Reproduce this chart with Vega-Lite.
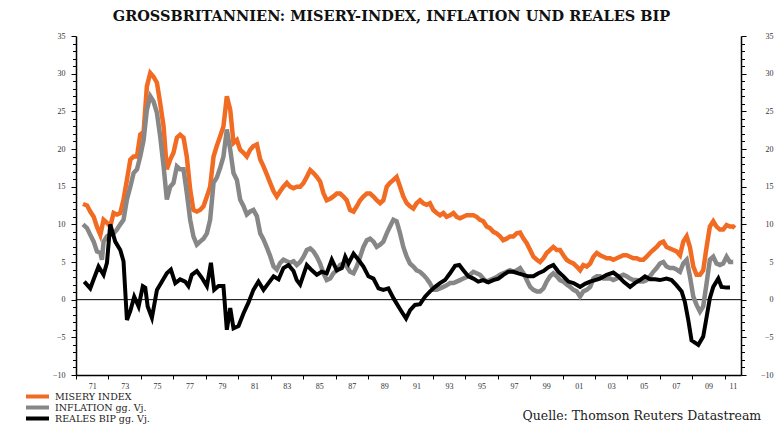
{
"$schema":"https://vega.github.io/schema/vega-lite/v6.json",
"width":665,"height":339,
"autosize":{"type":"none"},
"padding":{"left":76,"top":36,"right":35,"bottom":50},
"background":"white",
"title":{"text":"GROSSBRITANNIEN: MISERY-INDEX, INFLATION UND REALES BIP","font":"DejaVu Serif","fontSize":14.5,"fontWeight":"bold","color":"#111","anchor":"middle","dx":-17,"offset":0,"dy":3,"baseline":"alphabetic"},
"config":{"view":{"stroke":null},"axis":{"domainColor":"#000","domainWidth":1.5,"tickColor":"#000","tickWidth":1,"labelFont":"Liberation Serif","labelFontSize":8,"labelColor":"#333","grid":false}},
"data":{"values":[
{"t":1971.43,"s":"M","v":12.7},{"t":1971.68,"s":"M","v":12.5},{"t":1971.88,"s":"M","v":11.7},{"t":1972.09,"s":"M","v":11.0},{"t":1972.29,"s":"M","v":9.7},{"t":1972.5,"s":"M","v":8.6},{"t":1972.7,"s":"M","v":10.6},{"t":1972.91,"s":"M","v":10.2},{"t":1973.11,"s":"M","v":9.7},{"t":1973.32,"s":"M","v":11.5},{"t":1973.52,"s":"M","v":11.3},{"t":1973.73,"s":"M","v":11.5},{"t":1973.93,"s":"M","v":13.3},{"t":1974.14,"s":"M","v":15.9},{"t":1974.35,"s":"M","v":18.6},{"t":1974.55,"s":"M","v":19.0},{"t":1974.76,"s":"M","v":19.0},{"t":1974.96,"s":"M","v":21.9},{"t":1975.17,"s":"M","v":22.3},{"t":1975.37,"s":"M","v":28.3},{"t":1975.58,"s":"M","v":30.1},{"t":1975.78,"s":"M","v":29.6},{"t":1975.99,"s":"M","v":28.8},{"t":1976.19,"s":"M","v":26.1},{"t":1976.4,"s":"M","v":23.0},{"t":1976.6,"s":"M","v":17.3},{"t":1976.81,"s":"M","v":18.6},{"t":1977.01,"s":"M","v":19.5},{"t":1977.22,"s":"M","v":21.5},{"t":1977.42,"s":"M","v":21.9},{"t":1977.63,"s":"M","v":21.5},{"t":1977.83,"s":"M","v":19.0},{"t":1978.04,"s":"M","v":14.6},{"t":1978.24,"s":"M","v":11.9},{"t":1978.45,"s":"M","v":11.7},{"t":1978.65,"s":"M","v":11.9},{"t":1978.86,"s":"M","v":12.4},{"t":1979.07,"s":"M","v":13.7},{"t":1979.27,"s":"M","v":15.0},{"t":1979.48,"s":"M","v":19.0},{"t":1979.68,"s":"M","v":20.4},{"t":1979.89,"s":"M","v":21.7},{"t":1980.09,"s":"M","v":23.0},{"t":1980.3,"s":"M","v":27.0},{"t":1980.51,"s":"M","v":25.2},{"t":1980.71,"s":"M","v":20.8},{"t":1980.92,"s":"M","v":21.2},{"t":1981.12,"s":"M","v":19.9},{"t":1981.33,"s":"M","v":19.5},{"t":1981.53,"s":"M","v":19.0},{"t":1981.74,"s":"M","v":19.9},{"t":1981.94,"s":"M","v":20.4},{"t":1982.15,"s":"M","v":20.6},{"t":1982.36,"s":"M","v":18.6},{"t":1982.56,"s":"M","v":17.7},{"t":1982.77,"s":"M","v":16.6},{"t":1982.97,"s":"M","v":15.5},{"t":1983.18,"s":"M","v":14.4},{"t":1983.38,"s":"M","v":13.7},{"t":1983.59,"s":"M","v":14.4},{"t":1983.79,"s":"M","v":15.0},{"t":1984.0,"s":"M","v":15.5},{"t":1984.2,"s":"M","v":15.0},{"t":1984.41,"s":"M","v":14.8},{"t":1984.61,"s":"M","v":15.0},{"t":1984.82,"s":"M","v":15.0},{"t":1985.03,"s":"M","v":15.5},{"t":1985.23,"s":"M","v":16.3},{"t":1985.44,"s":"M","v":17.2},{"t":1985.64,"s":"M","v":16.8},{"t":1985.85,"s":"M","v":16.3},{"t":1986.05,"s":"M","v":15.7},{"t":1986.26,"s":"M","v":14.1},{"t":1986.46,"s":"M","v":13.2},{"t":1986.67,"s":"M","v":13.4},{"t":1986.87,"s":"M","v":13.7},{"t":1987.08,"s":"M","v":14.1},{"t":1987.28,"s":"M","v":14.1},{"t":1987.49,"s":"M","v":13.7},{"t":1987.69,"s":"M","v":13.2},{"t":1987.9,"s":"M","v":11.9},{"t":1988.11,"s":"M","v":11.7},{"t":1988.31,"s":"M","v":12.4},{"t":1988.52,"s":"M","v":13.2},{"t":1988.72,"s":"M","v":13.7},{"t":1988.93,"s":"M","v":14.1},{"t":1989.13,"s":"M","v":14.1},{"t":1989.34,"s":"M","v":13.7},{"t":1989.54,"s":"M","v":13.2},{"t":1989.75,"s":"M","v":12.8},{"t":1989.95,"s":"M","v":13.2},{"t":1990.16,"s":"M","v":15.0},{"t":1990.36,"s":"M","v":15.5},{"t":1990.57,"s":"M","v":15.9},{"t":1990.77,"s":"M","v":16.3},{"t":1990.98,"s":"M","v":15.0},{"t":1991.18,"s":"M","v":13.7},{"t":1991.39,"s":"M","v":12.8},{"t":1991.59,"s":"M","v":12.4},{"t":1991.8,"s":"M","v":12.1},{"t":1992.0,"s":"M","v":12.8},{"t":1992.21,"s":"M","v":13.2},{"t":1992.41,"s":"M","v":12.8},{"t":1992.62,"s":"M","v":12.6},{"t":1992.82,"s":"M","v":12.8},{"t":1993.03,"s":"M","v":11.9},{"t":1993.24,"s":"M","v":11.5},{"t":1993.44,"s":"M","v":11.2},{"t":1993.65,"s":"M","v":11.5},{"t":1993.85,"s":"M","v":11.0},{"t":1994.06,"s":"M","v":11.2},{"t":1994.27,"s":"M","v":11.5},{"t":1994.47,"s":"M","v":11.0},{"t":1994.68,"s":"M","v":10.8},{"t":1994.88,"s":"M","v":11.0},{"t":1995.09,"s":"M","v":11.2},{"t":1995.29,"s":"M","v":11.2},{"t":1995.5,"s":"M","v":11.2},{"t":1995.7,"s":"M","v":11.0},{"t":1995.91,"s":"M","v":10.6},{"t":1996.11,"s":"M","v":10.4},{"t":1996.32,"s":"M","v":9.7},{"t":1996.52,"s":"M","v":9.5},{"t":1996.73,"s":"M","v":9.0},{"t":1996.93,"s":"M","v":8.8},{"t":1997.14,"s":"M","v":8.4},{"t":1997.34,"s":"M","v":7.9},{"t":1997.55,"s":"M","v":8.1},{"t":1997.76,"s":"M","v":8.4},{"t":1997.96,"s":"M","v":8.4},{"t":1998.17,"s":"M","v":8.8},{"t":1998.38,"s":"M","v":8.9},{"t":1998.59,"s":"M","v":8.1},{"t":1998.79,"s":"M","v":7.5},{"t":1999.0,"s":"M","v":6.6},{"t":1999.2,"s":"M","v":5.7},{"t":1999.41,"s":"M","v":5.3},{"t":1999.61,"s":"M","v":5.0},{"t":1999.82,"s":"M","v":5.5},{"t":2000.02,"s":"M","v":6.2},{"t":2000.23,"s":"M","v":6.6},{"t":2000.43,"s":"M","v":7.0},{"t":2000.64,"s":"M","v":6.6},{"t":2000.84,"s":"M","v":6.6},{"t":2001.05,"s":"M","v":5.9},{"t":2001.25,"s":"M","v":5.3},{"t":2001.46,"s":"M","v":5.0},{"t":2001.67,"s":"M","v":4.8},{"t":2001.87,"s":"M","v":4.4},{"t":2002.08,"s":"M","v":3.9},{"t":2002.28,"s":"M","v":4.6},{"t":2002.49,"s":"M","v":4.4},{"t":2002.7,"s":"M","v":4.8},{"t":2002.9,"s":"M","v":5.7},{"t":2003.11,"s":"M","v":6.2},{"t":2003.31,"s":"M","v":5.9},{"t":2003.52,"s":"M","v":5.7},{"t":2003.72,"s":"M","v":5.5},{"t":2003.93,"s":"M","v":5.5},{"t":2004.13,"s":"M","v":5.3},{"t":2004.34,"s":"M","v":5.5},{"t":2004.54,"s":"M","v":5.7},{"t":2004.75,"s":"M","v":5.9},{"t":2004.95,"s":"M","v":5.9},{"t":2005.16,"s":"M","v":5.7},{"t":2005.36,"s":"M","v":5.5},{"t":2005.57,"s":"M","v":5.5},{"t":2005.77,"s":"M","v":5.3},{"t":2005.98,"s":"M","v":5.3},{"t":2006.18,"s":"M","v":5.7},{"t":2006.39,"s":"M","v":6.2},{"t":2006.59,"s":"M","v":6.6},{"t":2006.8,"s":"M","v":7.0},{"t":2007.0,"s":"M","v":7.5},{"t":2007.21,"s":"M","v":7.7},{"t":2007.41,"s":"M","v":7.0},{"t":2007.62,"s":"M","v":6.8},{"t":2007.83,"s":"M","v":6.6},{"t":2008.03,"s":"M","v":6.4},{"t":2008.24,"s":"M","v":5.9},{"t":2008.44,"s":"M","v":7.7},{"t":2008.65,"s":"M","v":8.4},{"t":2008.85,"s":"M","v":7.0},{"t":2009.06,"s":"M","v":4.4},{"t":2009.26,"s":"M","v":3.3},{"t":2009.47,"s":"M","v":3.3},{"t":2009.67,"s":"M","v":3.9},{"t":2009.88,"s":"M","v":7.0},{"t":2010.08,"s":"M","v":9.7},{"t":2010.29,"s":"M","v":10.4},{"t":2010.49,"s":"M","v":9.7},{"t":2010.7,"s":"M","v":9.3},{"t":2010.9,"s":"M","v":9.3},{"t":2011.11,"s":"M","v":9.9},{"t":2011.31,"s":"M","v":9.7},{"t":2011.52,"s":"M","v":9.7},{"t":2011.62,"s":"M","v":9.5},
{"t":1971.43,"s":"I","v":10.0},{"t":1971.68,"s":"I","v":9.5},{"t":1971.88,"s":"I","v":8.6},{"t":1972.09,"s":"I","v":7.7},{"t":1972.29,"s":"I","v":6.4},{"t":1972.5,"s":"I","v":6.2},{"t":1972.6,"s":"I","v":5.3},{"t":1972.7,"s":"I","v":7.7},{"t":1972.91,"s":"I","v":8.4},{"t":1973.11,"s":"I","v":8.6},{"t":1973.32,"s":"I","v":8.8},{"t":1973.52,"s":"I","v":9.3},{"t":1973.73,"s":"I","v":10.0},{"t":1973.93,"s":"I","v":10.6},{"t":1974.14,"s":"I","v":13.3},{"t":1974.35,"s":"I","v":15.0},{"t":1974.55,"s":"I","v":16.8},{"t":1974.76,"s":"I","v":17.3},{"t":1974.96,"s":"I","v":19.0},{"t":1975.17,"s":"I","v":21.2},{"t":1975.37,"s":"I","v":25.2},{"t":1975.58,"s":"I","v":27.0},{"t":1975.78,"s":"I","v":26.3},{"t":1975.99,"s":"I","v":24.8},{"t":1976.19,"s":"I","v":21.7},{"t":1976.4,"s":"I","v":17.7},{"t":1976.6,"s":"I","v":13.3},{"t":1976.81,"s":"I","v":15.0},{"t":1977.01,"s":"I","v":15.5},{"t":1977.22,"s":"I","v":17.7},{"t":1977.42,"s":"I","v":17.3},{"t":1977.63,"s":"I","v":17.3},{"t":1977.83,"s":"I","v":14.2},{"t":1978.04,"s":"I","v":10.6},{"t":1978.24,"s":"I","v":8.4},{"t":1978.45,"s":"I","v":7.3},{"t":1978.65,"s":"I","v":7.7},{"t":1978.86,"s":"I","v":8.1},{"t":1979.07,"s":"I","v":8.8},{"t":1979.27,"s":"I","v":10.6},{"t":1979.48,"s":"I","v":15.5},{"t":1979.68,"s":"I","v":16.2},{"t":1979.89,"s":"I","v":17.5},{"t":1980.09,"s":"I","v":19.0},{"t":1980.3,"s":"I","v":22.6},{"t":1980.51,"s":"I","v":19.9},{"t":1980.71,"s":"I","v":16.8},{"t":1980.92,"s":"I","v":15.9},{"t":1981.12,"s":"I","v":13.3},{"t":1981.33,"s":"I","v":12.4},{"t":1981.53,"s":"I","v":11.3},{"t":1981.74,"s":"I","v":11.7},{"t":1981.94,"s":"I","v":11.9},{"t":1982.15,"s":"I","v":11.1},{"t":1982.36,"s":"I","v":8.8},{"t":1982.56,"s":"I","v":8.0},{"t":1982.77,"s":"I","v":6.9},{"t":1982.97,"s":"I","v":5.8},{"t":1983.18,"s":"I","v":4.4},{"t":1983.38,"s":"I","v":4.0},{"t":1983.59,"s":"I","v":4.9},{"t":1983.79,"s":"I","v":5.3},{"t":1984.0,"s":"I","v":5.1},{"t":1984.2,"s":"I","v":4.9},{"t":1984.41,"s":"I","v":5.1},{"t":1984.61,"s":"I","v":4.6},{"t":1984.82,"s":"I","v":5.0},{"t":1985.03,"s":"I","v":5.7},{"t":1985.23,"s":"I","v":6.6},{"t":1985.44,"s":"I","v":6.8},{"t":1985.64,"s":"I","v":6.4},{"t":1985.85,"s":"I","v":5.7},{"t":1986.05,"s":"I","v":4.8},{"t":1986.26,"s":"I","v":3.5},{"t":1986.46,"s":"I","v":2.6},{"t":1986.67,"s":"I","v":2.8},{"t":1986.87,"s":"I","v":3.5},{"t":1987.08,"s":"I","v":3.9},{"t":1987.28,"s":"I","v":4.6},{"t":1987.49,"s":"I","v":4.8},{"t":1987.69,"s":"I","v":4.4},{"t":1987.9,"s":"I","v":3.7},{"t":1988.11,"s":"I","v":3.5},{"t":1988.31,"s":"I","v":4.4},{"t":1988.52,"s":"I","v":5.7},{"t":1988.72,"s":"I","v":7.0},{"t":1988.93,"s":"I","v":7.9},{"t":1989.13,"s":"I","v":8.1},{"t":1989.34,"s":"I","v":7.7},{"t":1989.54,"s":"I","v":7.0},{"t":1989.75,"s":"I","v":7.3},{"t":1989.95,"s":"I","v":7.7},{"t":1990.16,"s":"I","v":8.8},{"t":1990.36,"s":"I","v":9.7},{"t":1990.57,"s":"I","v":10.6},{"t":1990.77,"s":"I","v":10.4},{"t":1990.98,"s":"I","v":8.8},{"t":1991.18,"s":"I","v":7.0},{"t":1991.39,"s":"I","v":5.7},{"t":1991.59,"s":"I","v":4.8},{"t":1991.8,"s":"I","v":4.4},{"t":1992.0,"s":"I","v":3.9},{"t":1992.21,"s":"I","v":3.7},{"t":1992.41,"s":"I","v":3.3},{"t":1992.62,"s":"I","v":2.8},{"t":1992.82,"s":"I","v":2.2},{"t":1993.03,"s":"I","v":1.3},{"t":1993.24,"s":"I","v":1.3},{"t":1993.44,"s":"I","v":1.5},{"t":1993.65,"s":"I","v":1.7},{"t":1993.85,"s":"I","v":1.9},{"t":1994.06,"s":"I","v":2.2},{"t":1994.27,"s":"I","v":2.2},{"t":1994.47,"s":"I","v":2.4},{"t":1994.68,"s":"I","v":2.6},{"t":1994.88,"s":"I","v":2.8},{"t":1995.09,"s":"I","v":3.0},{"t":1995.29,"s":"I","v":3.3},{"t":1995.5,"s":"I","v":3.7},{"t":1995.7,"s":"I","v":3.5},{"t":1995.91,"s":"I","v":3.3},{"t":1996.11,"s":"I","v":2.8},{"t":1996.32,"s":"I","v":2.4},{"t":1996.52,"s":"I","v":2.6},{"t":1996.73,"s":"I","v":2.8},{"t":1996.93,"s":"I","v":3.0},{"t":1997.14,"s":"I","v":3.3},{"t":1997.34,"s":"I","v":3.5},{"t":1997.55,"s":"I","v":3.7},{"t":1997.76,"s":"I","v":3.9},{"t":1997.96,"s":"I","v":3.7},{"t":1998.17,"s":"I","v":3.9},{"t":1998.38,"s":"I","v":4.2},{"t":1998.59,"s":"I","v":3.5},{"t":1998.79,"s":"I","v":2.6},{"t":1999.0,"s":"I","v":1.7},{"t":1999.2,"s":"I","v":1.3},{"t":1999.41,"s":"I","v":1.1},{"t":1999.61,"s":"I","v":1.1},{"t":1999.82,"s":"I","v":1.5},{"t":2000.02,"s":"I","v":2.4},{"t":2000.23,"s":"I","v":3.1},{"t":2000.43,"s":"I","v":3.5},{"t":2000.64,"s":"I","v":3.1},{"t":2000.84,"s":"I","v":2.6},{"t":2001.05,"s":"I","v":2.4},{"t":2001.25,"s":"I","v":2.0},{"t":2001.46,"s":"I","v":1.7},{"t":2001.67,"s":"I","v":1.3},{"t":2001.87,"s":"I","v":1.1},{"t":2002.08,"s":"I","v":0.4},{"t":2002.28,"s":"I","v":1.1},{"t":2002.49,"s":"I","v":1.3},{"t":2002.7,"s":"I","v":1.7},{"t":2002.9,"s":"I","v":2.8},{"t":2003.11,"s":"I","v":3.1},{"t":2003.31,"s":"I","v":3.1},{"t":2003.52,"s":"I","v":2.8},{"t":2003.72,"s":"I","v":2.8},{"t":2003.93,"s":"I","v":2.8},{"t":2004.13,"s":"I","v":2.6},{"t":2004.34,"s":"I","v":2.8},{"t":2004.54,"s":"I","v":3.1},{"t":2004.75,"s":"I","v":3.3},{"t":2004.95,"s":"I","v":3.1},{"t":2005.16,"s":"I","v":2.8},{"t":2005.36,"s":"I","v":2.6},{"t":2005.57,"s":"I","v":2.6},{"t":2005.77,"s":"I","v":2.4},{"t":2005.98,"s":"I","v":2.4},{"t":2006.18,"s":"I","v":2.6},{"t":2006.39,"s":"I","v":3.1},{"t":2006.59,"s":"I","v":3.7},{"t":2006.8,"s":"I","v":4.2},{"t":2007.0,"s":"I","v":4.8},{"t":2007.21,"s":"I","v":5.0},{"t":2007.41,"s":"I","v":4.4},{"t":2007.62,"s":"I","v":4.2},{"t":2007.83,"s":"I","v":4.2},{"t":2008.03,"s":"I","v":4.0},{"t":2008.24,"s":"I","v":3.7},{"t":2008.44,"s":"I","v":4.8},{"t":2008.65,"s":"I","v":5.3},{"t":2008.85,"s":"I","v":3.1},{"t":2009.06,"s":"I","v":0.4},{"t":2009.26,"s":"I","v":-0.7},{"t":2009.47,"s":"I","v":-1.6},{"t":2009.67,"s":"I","v":-0.9},{"t":2009.88,"s":"I","v":2.2},{"t":2010.08,"s":"I","v":5.3},{"t":2010.29,"s":"I","v":5.7},{"t":2010.49,"s":"I","v":4.8},{"t":2010.7,"s":"I","v":4.6},{"t":2010.9,"s":"I","v":4.8},{"t":2011.11,"s":"I","v":5.7},{"t":2011.31,"s":"I","v":5.0},{"t":2011.52,"s":"I","v":5.0},
{"t":1971.51,"s":"B","v":2.4},{"t":1971.88,"s":"B","v":1.5},{"t":1972.09,"s":"B","v":2.7},{"t":1972.39,"s":"B","v":4.4},{"t":1972.7,"s":"B","v":3.3},{"t":1972.91,"s":"B","v":4.9},{"t":1973.11,"s":"B","v":10.0},{"t":1973.42,"s":"B","v":7.7},{"t":1973.73,"s":"B","v":6.6},{"t":1973.93,"s":"B","v":5.1},{"t":1974.14,"s":"B","v":-2.7},{"t":1974.35,"s":"B","v":-1.5},{"t":1974.59,"s":"B","v":0.4},{"t":1974.86,"s":"B","v":-0.9},{"t":1975.12,"s":"B","v":1.8},{"t":1975.27,"s":"B","v":1.6},{"t":1975.42,"s":"B","v":-0.9},{"t":1975.68,"s":"B","v":-2.4},{"t":1975.99,"s":"B","v":1.3},{"t":1976.3,"s":"B","v":2.4},{"t":1976.6,"s":"B","v":3.5},{"t":1976.85,"s":"B","v":4.0},{"t":1977.12,"s":"B","v":2.2},{"t":1977.42,"s":"B","v":2.7},{"t":1977.73,"s":"B","v":2.4},{"t":1977.93,"s":"B","v":1.8},{"t":1978.14,"s":"B","v":3.3},{"t":1978.45,"s":"B","v":3.8},{"t":1978.76,"s":"B","v":2.9},{"t":1979.07,"s":"B","v":1.8},{"t":1979.32,"s":"B","v":4.9},{"t":1979.52,"s":"B","v":1.3},{"t":1979.79,"s":"B","v":1.8},{"t":1980.09,"s":"B","v":1.8},{"t":1980.3,"s":"B","v":-4.0},{"t":1980.51,"s":"B","v":-1.1},{"t":1980.71,"s":"B","v":-3.8},{"t":1981.02,"s":"B","v":-3.5},{"t":1981.33,"s":"B","v":-1.8},{"t":1981.63,"s":"B","v":-0.4},{"t":1981.94,"s":"B","v":1.3},{"t":1982.25,"s":"B","v":2.4},{"t":1982.56,"s":"B","v":1.3},{"t":1982.87,"s":"B","v":2.2},{"t":1983.18,"s":"B","v":3.1},{"t":1983.49,"s":"B","v":2.7},{"t":1983.79,"s":"B","v":4.2},{"t":1984.1,"s":"B","v":4.6},{"t":1984.41,"s":"B","v":3.8},{"t":1984.61,"s":"B","v":2.6},{"t":1984.82,"s":"B","v":2.0},{"t":1985.23,"s":"B","v":4.6},{"t":1985.54,"s":"B","v":3.9},{"t":1985.85,"s":"B","v":3.3},{"t":1986.15,"s":"B","v":3.7},{"t":1986.46,"s":"B","v":3.5},{"t":1986.77,"s":"B","v":5.3},{"t":1987.08,"s":"B","v":3.9},{"t":1987.39,"s":"B","v":4.2},{"t":1987.6,"s":"B","v":5.7},{"t":1987.8,"s":"B","v":4.8},{"t":1988.11,"s":"B","v":6.1},{"t":1988.41,"s":"B","v":5.3},{"t":1988.72,"s":"B","v":4.4},{"t":1989.03,"s":"B","v":3.1},{"t":1989.34,"s":"B","v":2.8},{"t":1989.65,"s":"B","v":1.5},{"t":1989.95,"s":"B","v":1.3},{"t":1990.26,"s":"B","v":1.5},{"t":1990.57,"s":"B","v":0.2},{"t":1990.88,"s":"B","v":-0.9},{"t":1991.08,"s":"B","v":-1.6},{"t":1991.35,"s":"B","v":-2.5},{"t":1991.6,"s":"B","v":-1.4},{"t":1991.9,"s":"B","v":-0.7},{"t":1992.21,"s":"B","v":-0.6},{"t":1992.52,"s":"B","v":0.4},{"t":1992.83,"s":"B","v":1.1},{"t":1993.14,"s":"B","v":1.7},{"t":1993.44,"s":"B","v":2.2},{"t":1993.75,"s":"B","v":2.6},{"t":1994.06,"s":"B","v":3.5},{"t":1994.37,"s":"B","v":4.5},{"t":1994.63,"s":"B","v":4.6},{"t":1994.88,"s":"B","v":3.9},{"t":1995.19,"s":"B","v":3.1},{"t":1995.5,"s":"B","v":2.8},{"t":1995.8,"s":"B","v":2.4},{"t":1996.11,"s":"B","v":2.6},{"t":1996.42,"s":"B","v":2.3},{"t":1996.73,"s":"B","v":2.6},{"t":1997.04,"s":"B","v":2.8},{"t":1997.35,"s":"B","v":3.3},{"t":1997.65,"s":"B","v":3.7},{"t":1997.96,"s":"B","v":3.7},{"t":1998.27,"s":"B","v":3.5},{"t":1998.58,"s":"B","v":3.3},{"t":1998.89,"s":"B","v":3.1},{"t":1999.2,"s":"B","v":3.1},{"t":1999.51,"s":"B","v":3.5},{"t":1999.82,"s":"B","v":3.8},{"t":2000.13,"s":"B","v":4.3},{"t":2000.43,"s":"B","v":4.6},{"t":2000.74,"s":"B","v":3.7},{"t":2001.05,"s":"B","v":3.1},{"t":2001.36,"s":"B","v":2.4},{"t":2001.67,"s":"B","v":2.2},{"t":2002.08,"s":"B","v":1.7},{"t":2002.38,"s":"B","v":2.1},{"t":2002.69,"s":"B","v":2.4},{"t":2003.0,"s":"B","v":2.6},{"t":2003.31,"s":"B","v":2.8},{"t":2003.72,"s":"B","v":3.3},{"t":2004.13,"s":"B","v":3.6},{"t":2004.44,"s":"B","v":3.1},{"t":2004.75,"s":"B","v":2.4},{"t":2005.16,"s":"B","v":1.7},{"t":2005.46,"s":"B","v":2.2},{"t":2005.77,"s":"B","v":2.6},{"t":2006.08,"s":"B","v":3.1},{"t":2006.39,"s":"B","v":2.7},{"t":2006.7,"s":"B","v":2.7},{"t":2007.0,"s":"B","v":2.6},{"t":2007.41,"s":"B","v":2.8},{"t":2007.72,"s":"B","v":2.6},{"t":2008.03,"s":"B","v":1.9},{"t":2008.34,"s":"B","v":1.1},{"t":2008.54,"s":"B","v":-0.3},{"t":2008.75,"s":"B","v":-2.7},{"t":2008.95,"s":"B","v":-5.4},{"t":2009.37,"s":"B","v":-6.0},{"t":2009.67,"s":"B","v":-4.9},{"t":2009.88,"s":"B","v":-2.3},{"t":2010.08,"s":"B","v":0.2},{"t":2010.29,"s":"B","v":1.7},{"t":2010.6,"s":"B","v":2.8},{"t":2010.8,"s":"B","v":1.7},{"t":2011.11,"s":"B","v":1.6},{"t":2011.32,"s":"B","v":1.6}
]},
"layer":[
{"data":{"values":[{"z":0}]},"mark":{"type":"rule","color":"#000","strokeWidth":1},"encoding":{"y":{"field":"z","type":"quantitative","scale":{"domain":[-10,35],"nice":false,"zero":false},"axis":null}}},
{"transform":[{"filter":"datum.s == 'M'"}],"mark":{"type":"line","strokeWidth":4.5},
"encoding":{
"x":{"field":"t","type":"quantitative","scale":{"domain":[1971,2012],"nice":false,"zero":false},"axis":{"values":[1971,1973,1975,1977,1979,1981,1983,1985,1987,1989,1991,1993,1995,1997,1999,2001,2003,2005,2007,2009,2011],"labelExpr":"substring(toString(datum.value),2,4)","labelOffset":{"condition":{"test":"datum.value == 2011","value":8},"value":16.2},"labelFlush":false,"labelOverlap":false,"tickSize":4,"labelPadding":3,"title":"Quelle: Thomson Reuters Datastream","titleX":446,"titleY":44,"titleAlign":"left","titleAnchor":"start","titleBaseline":"alphabetic","titleFontSize":12.5,"titleFontWeight":"normal","titleFont":"DejaVu Serif","titleColor":"#222"}},
"y":{"field":"v","type":"quantitative","scale":{"domain":[-10,35],"nice":false,"zero":false},"axis":{"orient":"left","values":[-10,-9,-8,-7,-6,-5,-4,-3,-2,-1,0,1,2,3,4,5,6,7,8,9,10,11,12,13,14,15,16,17,18,19,20,21,22,23,24,25,26,27,28,29,30,31,32,33,34,35],"labelExpr":"datum.value % 5 == 0 ? datum.label : ''","tickSize":{"condition":{"test":"datum.value % 5 == 0","value":5},"value":3.5},"labelPadding":6,"labelOverlap":false,"title":null}},
"color":{"field":"s","type":"nominal","scale":{"domain":["M","I","B"],"range":["#F26B22","#878787","#000000"]},"legend":{"orient":"none","legendX":-50,"legendY":355,"title":null,"direction":"vertical","symbolType":"M-5,0H5","symbolSize":49,"symbolStrokeWidth":4,"clipHeight":11,"labelFont":"DejaVu Serif","labelFontSize":9.5,"labelColor":"#222","labelOffset":18,"rowPadding":0,"labelExpr":"datum.value == 'M' ? 'MISERY INDEX' : datum.value == 'I' ? 'INFLATION gg. Vj.' : 'REALES BIP gg. Vj.'"}}}},
{"transform":[{"filter":"datum.s == 'I'"}],"mark":{"type":"line","strokeWidth":4.5},
"encoding":{
"x":{"field":"t","type":"quantitative","scale":{"domain":[1971,2012],"nice":false,"zero":false},"axis":{"values":[1971,1973,1975,1977,1979,1981,1983,1985,1987,1989,1991,1993,1995,1997,1999,2001,2003,2005,2007,2009,2011],"labelExpr":"substring(toString(datum.value),2,4)","labelOffset":{"condition":{"test":"datum.value == 2011","value":8},"value":16.2},"labelFlush":false,"labelOverlap":false,"tickSize":4,"labelPadding":3,"title":"Quelle: Thomson Reuters Datastream","titleX":446,"titleY":44,"titleAlign":"left","titleAnchor":"start","titleBaseline":"alphabetic","titleFontSize":12.5,"titleFontWeight":"normal","titleFont":"DejaVu Serif","titleColor":"#222"}},
"y":{"field":"v","type":"quantitative","scale":{"domain":[-10,35],"nice":false,"zero":false},"axis":{"orient":"right","values":[-10,-9,-8,-7,-6,-5,-4,-3,-2,-1,0,1,2,3,4,5,6,7,8,9,10,11,12,13,14,15,16,17,18,19,20,21,22,23,24,25,26,27,28,29,30,31,32,33,34,35],"labelExpr":"datum.value % 5 == 0 ? datum.label : ''","tickSize":{"condition":{"test":"datum.value % 5 == 0","value":5},"value":3.5},"labelAlign":"right","labelPadding":27,"labelOverlap":false,"title":null}},
"color":{"field":"s","type":"nominal","scale":{"domain":["M","I","B"],"range":["#F26B22","#878787","#000000"]},"legend":{"orient":"none","legendX":-50,"legendY":355,"title":null,"direction":"vertical","symbolType":"M-5,0H5","symbolSize":49,"symbolStrokeWidth":4,"clipHeight":11,"labelFont":"DejaVu Serif","labelFontSize":9.5,"labelColor":"#222","labelOffset":18,"rowPadding":0,"labelExpr":"datum.value == 'M' ? 'MISERY INDEX' : datum.value == 'I' ? 'INFLATION gg. Vj.' : 'REALES BIP gg. Vj.'"}}}},
{"transform":[{"filter":"datum.s == 'B'"}],"mark":{"type":"line","strokeWidth":4},
"encoding":{
"x":{"field":"t","type":"quantitative","scale":{"domain":[1971,2012],"nice":false,"zero":false},"axis":{"values":[1971,1973,1975,1977,1979,1981,1983,1985,1987,1989,1991,1993,1995,1997,1999,2001,2003,2005,2007,2009,2011],"labelExpr":"substring(toString(datum.value),2,4)","labelOffset":{"condition":{"test":"datum.value == 2011","value":8},"value":16.2},"labelFlush":false,"labelOverlap":false,"tickSize":4,"labelPadding":3,"title":"Quelle: Thomson Reuters Datastream","titleX":446,"titleY":44,"titleAlign":"left","titleAnchor":"start","titleBaseline":"alphabetic","titleFontSize":12.5,"titleFontWeight":"normal","titleFont":"DejaVu Serif","titleColor":"#222"}},
"y":{"field":"v","type":"quantitative","scale":{"domain":[-10,35],"nice":false,"zero":false},"axis":null},
"color":{"field":"s","type":"nominal","scale":{"domain":["M","I","B"],"range":["#F26B22","#878787","#000000"]},"legend":{"orient":"none","legendX":-50,"legendY":355,"title":null,"direction":"vertical","symbolType":"M-5,0H5","symbolSize":49,"symbolStrokeWidth":4,"clipHeight":11,"labelFont":"DejaVu Serif","labelFontSize":9.5,"labelColor":"#222","labelOffset":18,"rowPadding":0,"labelExpr":"datum.value == 'M' ? 'MISERY INDEX' : datum.value == 'I' ? 'INFLATION gg. Vj.' : 'REALES BIP gg. Vj.'"}}}}
],
"resolve":{"axis":{"y":"independent"}}
}
